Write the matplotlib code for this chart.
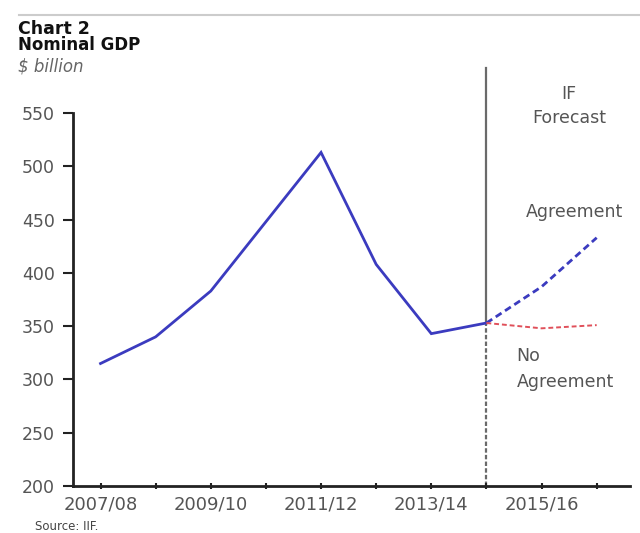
import matplotlib
matplotlib.use("Agg")
import matplotlib.pyplot as plt

# Fiscal years and nominal GDP ($ billion)
years = ["2007/08", "2008/09", "2009/10", "2010/11", "2011/12",
         "2012/13", "2013/14", "2014/15", "2015/16", "2016/17"]
actual = [315, 340, 383, 448, 513, 408, 343, 353]
forecast_years = ["2014/15", "2015/16", "2016/17"]
agreement = [353, 387, 433]
no_agreement = [353, 348, 351]
tick_labels = ["2007/08", "", "2009/10", "", "2011/12", "", "2013/14", "", "2015/16", ""]
yticks = [200, 250, 300, 350, 400, 450, 500, 550]

pos = {y: i for i, y in enumerate(years)}

fig = plt.figure(figsize=(6.4, 5.33), dpi=100)
ax = fig.add_axes([0.114, 0.088, 0.87, 0.70])

ax.plot([pos[y] for y in years[:len(actual)]], actual,
        color="#3b3bbf", lw=2.0, solid_joinstyle="miter", zorder=3)
ax.plot([pos[y] for y in forecast_years], agreement,
        color="#3b3bbf", lw=2.0, ls=(0, (2.5, 1.5)), zorder=3)
ax.plot([pos[y] for y in forecast_years], no_agreement,
        color="#e0505a", lw=1.4, ls=(0, (2.5, 1.5)), zorder=3)

# Forecast boundary: solid above the last actual value, dashed below it
xb = pos["2014/15"]
y_split = (actual[-1] - 200) / (550 - 200)
ax.plot([xb, xb], [y_split, 1.12], transform=ax.get_xaxis_transform(),
        color="#6a6a6a", lw=1.6, clip_on=False, zorder=1)
ax.plot([xb, xb], [0, y_split], transform=ax.get_xaxis_transform(),
        color="#6a6a6a", lw=1.6, ls=(0, (2, 1)), clip_on=False, zorder=1)

ax.set_xlim(-0.5, 9.6)
ax.set_ylim(200, 550)
ax.set_yticks(yticks)
ax.set_xticks(range(len(years)))
ax.set_xticklabels(tick_labels)

for s in ["top", "right"]:
    ax.spines[s].set_visible(False)
for s in ["left", "bottom"]:
    ax.spines[s].set_linewidth(2.0)
    ax.spines[s].set_color("#222222")

ax.tick_params(axis="y", direction="out", length=7, width=1.5, colors="#222222",
               labelcolor="#555555", labelsize=12.5, pad=6)
ax.tick_params(axis="x", direction="inout", length=5, width=1.5, colors="#222222",
               labelcolor="#555555", labelsize=13, pad=4)

lab = dict(color="#555555", fontsize=12.5)
ax.text(8.5, 1.018, "IF\nForecast", transform=ax.get_xaxis_transform(),
        ha="center", va="center", linespacing=1.45, **lab)
ax.text(8.6, 457, "Agreement", ha="center", va="center", **lab)
ax.text(7.55, 310, "No\nAgreement", ha="left", va="center", linespacing=1.55, **lab)

# Header
fig.add_artist(plt.Line2D([0.03, 1.0], [0.972, 0.972], color="#cccccc", lw=1.5))
fig.text(0.028, 0.946, "Chart 2", fontsize=12.5, fontweight="bold",
         va="center", color="#111111")
fig.text(0.028, 0.915, "Nominal GDP", fontsize=12, fontweight="bold",
         va="center", color="#111111")
fig.text(0.028, 0.876, "$ billion", fontsize=12, style="italic",
         va="center", color="#666666")
fig.text(0.055, 0.013, "Source: IIF.", fontsize=8.5, va="center", color="#444444")

fig.savefig("out.png", dpi=100, facecolor="white")
